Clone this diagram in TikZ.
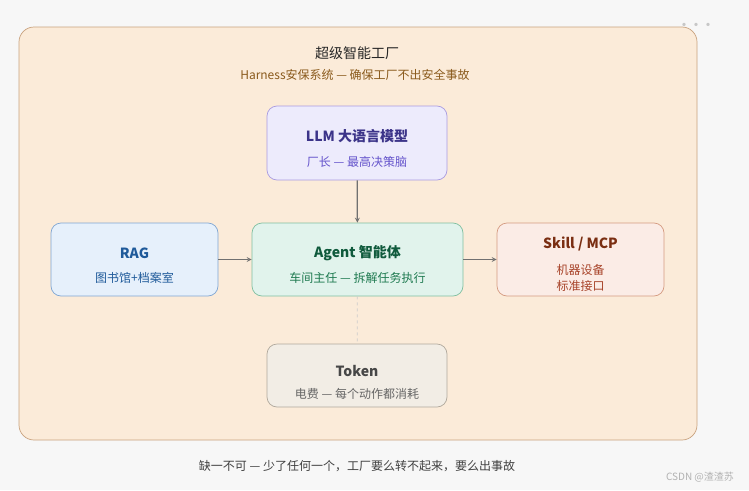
\documentclass[tikz,border=0pt]{standalone}
\usepackage{fontspec}
\setmainfont{Noto Sans CJK SC}
\usetikzlibrary{positioning}
\definecolor{pagebg}{HTML}{F7F7F7}
\definecolor{factfill}{HTML}{FBEBD9}
\definecolor{factline}{HTML}{C9A27E}
\definecolor{arrowgray}{HTML}{707070}
\tikzset{
  box/.style={draw, rounded corners=10pt, line width=.7pt, minimum height=73pt, align=center},
  ttl/.style={font=\fontsize{14}{16}\selectfont\bfseries},
  sub/.style={font=\fontsize{12}{15}\selectfont},
  flow/.style={draw=arrowgray, line width=1.2pt, ->, >={stealth}}
}
\begin{document}
\begin{tikzpicture}[x=1pt,y=-1pt]
  \fill[pagebg] (0,0) rectangle (749,490);
  \useasboundingbox (0,0) rectangle (749,490);
  \draw[factline, fill=factfill, rounded corners=15pt, line width=.7pt] (19,27) rectangle (697,440);
  \node (title) at (357,53) [font=\fontsize{14}{16}\selectfont, text=black!85] {超级智能工厂};
  \node (subtitle) at (355,75) [sub, text={rgb,255:red,138;green,90;blue,28}] {Harness安保系统 — 确保工厂不出安全事故};

  \node (llm) at (357,143) [box, draw={rgb,255:red,169;green,155;blue,224}, fill={rgb,255:red,237;green,235;blue,252}, minimum width=180pt, minimum height=74pt] {};
  \node at (357,136) [ttl, text={rgb,255:red,60;green,52;blue,137}] {LLM 大语言模型};
  \node at (357,162) [sub, text={rgb,255:red,102;green,85;blue,204}] {厂长 — 最高决策脑};

  \node (rag) at (134.5,259.5) [box, draw={rgb,255:red,127;green,166;blue,211}, fill={rgb,255:red,230;green,240;blue,251}, minimum width=167pt] {};
  \node at (134.5,253) [ttl, text={rgb,255:red,31;green,90;blue,154}] {RAG};
  \node at (134.5,278) [sub, text={rgb,255:red,31;green,90;blue,154}] {图书馆+档案室};

  \node (agent) at (357.5,259.5) [box, draw={rgb,255:red,127;green,191;blue,160}, fill={rgb,255:red,225;green,243;blue,236}, minimum width=211pt] {};
  \node at (357.5,253) [ttl, text={rgb,255:red,15;green,90;blue,60}] {Agent 智能体};
  \node at (357.5,278) [sub, text={rgb,255:red,30;green,122;blue,80}] {车间主任 — 拆解任务执行};

  \node (skill) at (580.5,259.5) [box, draw={rgb,255:red,212;green,154;blue,128}, fill={rgb,255:red,251;green,236;blue,230}, minimum width=167pt] {};
  \node at (580.5,244) [ttl, text={rgb,255:red,122;green,46;blue,18}] {Skill / MCP};
  \node at (580.5,278) [sub, text={rgb,255:red,168;green,68;blue,42}, align=center, font=\fontsize{12}{16}\selectfont] {机器设备\\标准接口};

  \node (token) at (357,375.5) [box, draw={rgb,255:red,176;green,168;blue,156}, fill={rgb,255:red,242;green,237;blue,229}, minimum width=180pt, minimum height=63pt] {};
  \node at (357,371) [ttl, text=black!72] {Token};
  \node at (357,394) [sub, text=black!60] {电费 — 每个动作都消耗};

  \draw[flow] (llm) -- (agent);
  \draw[flow] (rag) -- (agent);
  \draw[flow] (agent) -- (skill);
  \draw[black!20, dashed, line width=.7pt] (agent) -- (token);

  \node (caption) at (357,466) [sub, text=black!75] {缺一不可 — 少了任何一个，工厂要么转不起来，要么出事故};
  \node (mark) at (700,477) [font=\fontsize{10}{12}\selectfont, text=black!30] {CSDN @渣渣苏};
  \node (dots) at (696,26) [font=\fontsize{12}{12}\selectfont\bfseries, text=black!22] {···};
\end{tikzpicture}
\end{document}
